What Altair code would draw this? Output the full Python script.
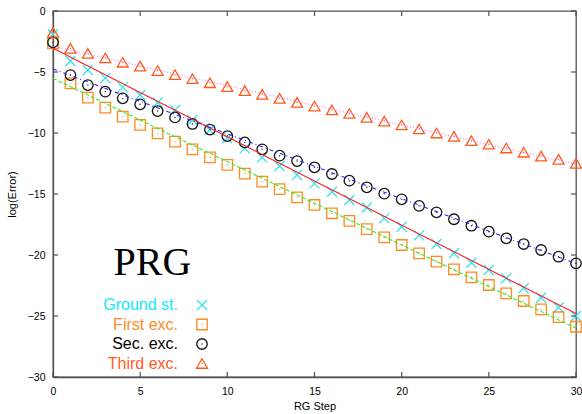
import altair as alt
import pandas as pd

steps = list(range(31))
ground = [-1.9, -4.1, -4.84, -5.5, -6.26, -6.89, -7.5, -8.11, -8.95, -9.75, -10.44,
          -11.26, -12.0, -12.7, -13.44, -14.13, -14.81, -15.49, -16.1, -17.0, -17.68,
          -18.39, -19.1, -19.86, -20.63, -21.23, -21.9, -22.73, -23.5, -24.3, -25.0]
first = [-2.65, -5.93, -7.1, -7.92, -8.66, -9.34, -10.03, -10.71, -11.34, -12.0, -12.62,
         -13.33, -13.99, -14.6, -15.27, -15.9, -16.58, -17.2, -17.88, -18.55, -19.18,
         -19.86, -20.55, -21.17, -21.83, -22.46, -23.14, -23.77, -24.45, -25.1, -25.88]
second = [-2.57, -5.25, -6.07, -6.61, -7.16, -7.65, -8.2, -8.72, -9.26, -9.72, -10.25,
          -10.77, -11.34, -11.86, -12.3, -12.81, -13.36, -13.91, -14.45, -14.97, -15.44,
          -15.98, -16.5, -17.07, -17.6, -18.09, -18.63, -19.1, -19.59, -20.14, -20.68]
third = [-1.75, -3.06, -3.47, -3.85, -4.2, -4.52, -4.88, -5.22, -5.55, -5.88, -6.2,
         -6.53, -6.83, -7.16, -7.49, -7.79, -8.11, -8.4, -8.72, -9.02, -9.34,
         -9.67, -10.0, -10.28, -10.63, -10.92, -11.23, -11.58, -11.89, -12.16, -12.49]

# straight fit lines: values at step 0 and step 30
fit_x = [0, 30]
fit_ground = [-3.06, -24.8]
fit_first = [-5.52, -26.0]
fit_second = [-4.75, -20.7]
fit_third = [-2.9, -12.56]

labels = ["Ground st.", "First exc.", "Sec. exc.", "Third exc."]
x_ticks = [0, 5, 10, 15, 20, 25, 30]
y_ticks = [0, -5, -10, -15, -20, -25, -30]

W, H = 523, 366
FRAME = "#505050"
XS = alt.Scale(domain=[0, 30], nice=False, zero=False)
YS = alt.Scale(domain=[-30, 0], nice=False, zero=False)

CROSS = "M-1,-1L1,1M-1,1L1,-1"
series = [
    dict(vals=ground, fit=fit_ground, shape=CROSS, color="#30e4f0", text_color="#10e8ff",
         size=100, dot=False, dash=[], lcolor="#ff2020"),
    dict(vals=first, fit=fit_first, shape="square", color="#ff8a1e", text_color="#ff8a28",
         size=110, dot=True, dash=[4, 2], lcolor="#33ee22"),
    dict(vals=second, fit=fit_second, shape="circle", color="#111111", text_color="#000000",
         size=110, dot=True, dash=[4, 3, 1, 3], lcolor="#2828ff"),
    dict(vals=third, fit=fit_third, shape="triangle-up", color="#ff5a1a", text_color="#ff5a28",
         size=120, dot=True, dash=[1, 2], lcolor="#ff70ff"),
]

xenc = lambda f: alt.X(f, type="quantitative", scale=XS,
                       axis=alt.Axis(values=x_ticks, title="RG Step", labelFlush=False))
yenc = lambda f: alt.Y(f, type="quantitative", scale=YS,
                       axis=alt.Axis(values=y_ticks, title="log(Error)", labelFlush=False))

layers = []
for s in series:
    df = pd.DataFrame({"step": steps, "v": s["vals"]})
    layers.append(alt.Chart(df).mark_point(shape=s["shape"], filled=False, color=s["color"],
                                           size=s["size"], strokeWidth=1.3, opacity=1, clip=False)
                  .encode(x=xenc("step"), y=yenc("v")))
    if s["dot"]:
        layers.append(alt.Chart(df).mark_point(shape="circle", filled=True, color=s["color"],
                                               size=2, opacity=0.9, clip=False)
                      .encode(x=xenc("step"), y=yenc("v")))

for s in series:
    fdf = pd.DataFrame({"step": fit_x, "v": s["fit"]})
    kw = dict(color=s["lcolor"], strokeWidth=1.1)
    if s["dash"]:
        kw["strokeDash"] = s["dash"]
    layers.append(alt.Chart(fdf).mark_line(**kw).encode(x=xenc("step"), y=yenc("v")))

# inward tick marks on all four sides
xt = pd.DataFrame({"t": x_ticks})
yt = pd.DataFrame({"t": y_ticks})
layers.append(alt.Chart(xt).mark_rule(color=FRAME, strokeWidth=1.2)
              .encode(x=xenc("t"), y=alt.value(H), y2=alt.value(H - 5)))
layers.append(alt.Chart(xt).mark_rule(color=FRAME, strokeWidth=1.2)
              .encode(x=xenc("t"), y=alt.value(0), y2=alt.value(5)))
layers.append(alt.Chart(yt).mark_rule(color=FRAME, strokeWidth=1.2)
              .encode(y=yenc("t"), x=alt.value(0), x2=alt.value(5)))
layers.append(alt.Chart(yt).mark_rule(color=FRAME, strokeWidth=1.2)
              .encode(y=yenc("t"), x=alt.value(W), x2=alt.value(W - 5)))

# PRG label
layers.append(alt.Chart(pd.DataFrame({"t": ["PRG"]})).mark_text(
    font="Liberation Serif", fontSize=40, align="center", baseline="alphabetic", color="black")
    .encode(x=alt.value(99.5), y=alt.value(264), text="t:N"))

# manual key
key_y = [294, 313.5, 333, 352.5]
for i, s in enumerate(series):
    tdf = pd.DataFrame({"t": [labels[i]]})
    layers.append(alt.Chart(tdf).mark_text(font="Liberation Sans", fontSize=16, align="right",
                                           baseline="middle", color=s["text_color"])
                  .encode(x=alt.value(125), y=alt.value(key_y[i]), text="t:N"))
    layers.append(alt.Chart(tdf).mark_point(shape=s["shape"], filled=False, color=s["color"],
                                            size=s["size"], strokeWidth=1.3, opacity=1)
                  .encode(x=alt.value(149), y=alt.value(key_y[i])))
    if s["dot"]:
        layers.append(alt.Chart(tdf).mark_point(shape="circle", filled=True, color=s["color"],
                                                size=2, opacity=0.9)
                      .encode(x=alt.value(149), y=alt.value(key_y[i])))

chart = alt.layer(*layers).properties(
    width=W, height=H,
    autosize=alt.AutoSizeParams(type="none"),
    padding={"left": 53, "top": 11, "right": 6, "bottom": 37},
).configure_view(stroke=FRAME, strokeWidth=1.3).configure_axis(
    grid=False, ticks=False, domainColor=FRAME, domainWidth=1.3, labelFlush=False,
    labelFont="Liberation Sans", labelFontSize=10.5, labelColor="black",
    titleFont="Liberation Sans", titleFontSize=11, titleFontWeight="normal", titleColor="black",
).configure_axisX(labelPadding=9, titlePadding=4).configure_axisY(
    labelPadding=8, titlePadding=10)

chart.save("out.html", embed_options={"renderer": "svg", "actions": False})
